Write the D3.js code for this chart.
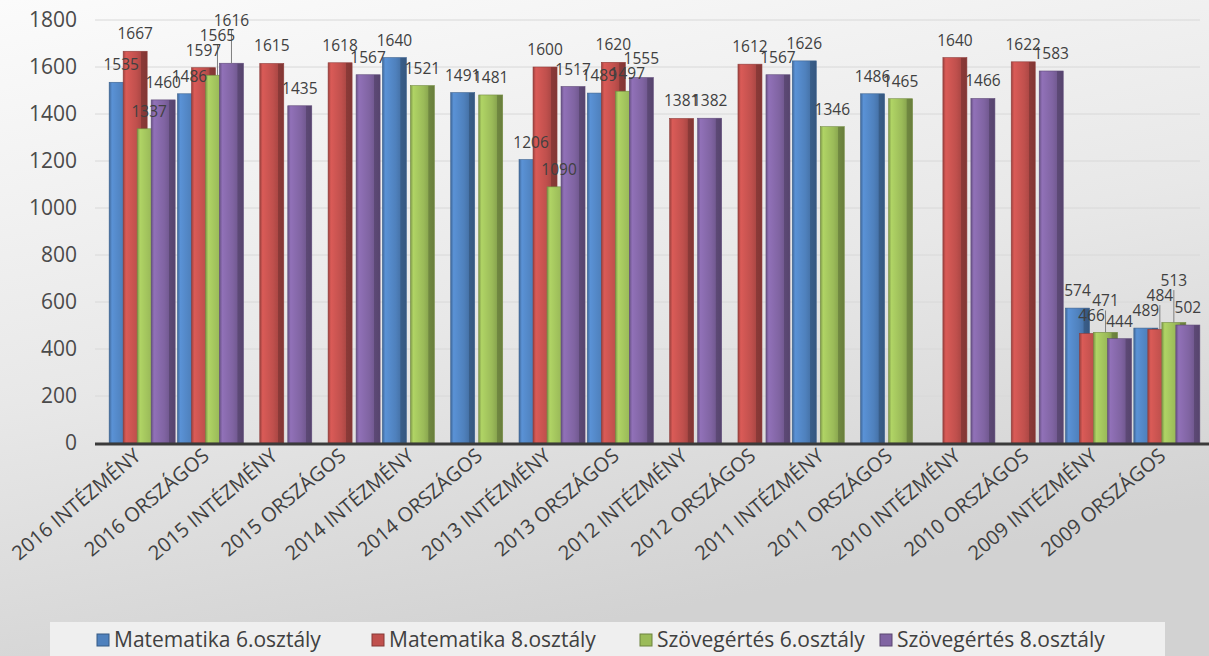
<html>
<head>
<script src="https://d3js.org/d3.v7.min.js"></script>
<style>
  body { margin: 0; }
  text { font-family: "Open Sans", sans-serif; fill: #404040; }
</style>
</head>
<body>
<svg width="1209" height="656"></svg>
<script>
const categories = ['2016 INTÉZMÉNY', '2016 ORSZÁGOS', '2015 INTÉZMÉNY', '2015 ORSZÁGOS',
  '2014 INTÉZMÉNY', '2014 ORSZÁGOS', '2013 INTÉZMÉNY', '2013 ORSZÁGOS',
  '2012 INTÉZMÉNY', '2012 ORSZÁGOS', '2011 INTÉZMÉNY', '2011 ORSZÁGOS',
  '2010 INTÉZMÉNY', '2010 ORSZÁGOS', '2009 INTÉZMÉNY', '2009 ORSZÁGOS'];
const seriesNames = ['Matematika 6.osztály', 'Matematika 8.osztály', 'Szövegértés 6.osztály', 'Szövegértés 8.osztály'];
const matek6 = [1535, 1486, null, null, 1640, 1491, 1206, 1489, null, null, 1626, 1486, null, null, 574, 489];
const matek8 = [1667, 1597, 1615, 1618, null, null, 1600, 1620, 1381, 1612, null, null, 1640, 1622, 466, 484];
const szoveg6 = [1337, 1565, null, null, 1521, 1481, 1090, 1497, null, null, 1346, 1465, null, null, 471, 513];
const szoveg8 = [1460, 1616, 1435, 1567, null, null, 1517, 1555, 1382, 1567, null, null, 1466, 1583, 444, 502];
const yTicks = [0, 200, 400, 600, 800, 1000, 1200, 1400, 1600, 1800];
const colors = ['#4f81bd', '#c0504d', '#9bbb59', '#8064a2'];

const series = [matek6, matek8, szoveg6, szoveg8];
const svg = d3.select('svg');
const defs = svg.append('defs');

// background
const bg = defs.append('linearGradient').attr('id', 'bg')
  .attr('x1', 0).attr('y1', 0).attr('x2', 0.35).attr('y2', 1);
bg.append('stop').attr('offset', '0%').attr('stop-color', '#fbfbfb');
bg.append('stop').attr('offset', '55%').attr('stop-color', '#e8e8e8');
bg.append('stop').attr('offset', '100%').attr('stop-color', '#d2d2d2');
svg.append('rect').attr('width', 1209).attr('height', 656).attr('fill', 'url(#bg)');

// bar gradients (fake 3d look)
colors.forEach((c, i) => {
  const g = defs.append('linearGradient').attr('id', 'bar' + i);
  const base = d3.color(c);
  g.append('stop').attr('offset', '0%').attr('stop-color', base.darker(0.6));
  g.append('stop').attr('offset', '12%').attr('stop-color', base.brighter(0.35));
  g.append('stop').attr('offset', '55%').attr('stop-color', base);
  g.append('stop').attr('offset', '74%').attr('stop-color', base.darker(0.3));
  g.append('stop').attr('offset', '76%').attr('stop-color', base.darker(0.9));
  g.append('stop').attr('offset', '100%').attr('stop-color', base.darker(1.1));
});

const y = d3.scaleLinear().domain([0, 1800]).range([443, 20]);
const x0 = d3.scaleBand().domain(categories).range([108, 1201]).padding(0);
const slot = 14;
const barW = 24;

// gridlines
svg.append('g').selectAll('line').data(yTicks.slice(1)).join('line')
  .attr('x1', 95).attr('x2', 1200)
  .attr('y1', d => y(d)).attr('y2', d => y(d))
  .attr('stroke', '#d8d8d8').attr('stroke-width', 1);

// y tick labels
svg.append('g').selectAll('text').data(yTicks).join('text')
  .attr('x', 77).attr('y', d => y(d)).attr('dy', '0.35em')
  .attr('text-anchor', 'end')
  .style('font-size', '21px').style('fill', '#4a4a4a')
  .text(d => d);

// bars
const bars = [];
series.forEach((vals, s) => {
  vals.forEach((v, i) => {
    if (v == null) return;
    bars.push({ s, cat: categories[i], v });
  });
});
const cx = d => x0(d.cat) + x0.bandwidth() / 2 + (d.s - 1.5) * slot;

svg.append('g').selectAll('rect').data(bars).join('rect')
  .attr('x', d => cx(d) - barW / 2)
  .attr('y', d => y(d.v))
  .attr('width', barW)
  .attr('height', d => y(0) - y(d.v))
  .attr('fill', d => `url(#bar${d.s})`)
  .attr('stroke', d => d3.color(colors[d.s]).darker(0.8))
  .attr('stroke-width', 0.6);

// floor / axis line
svg.append('line').attr('x1', 95).attr('x2', 1209).attr('y1', y(0) + 1).attr('y2', y(0) + 1)
  .attr('stroke', '#3a3a3a').attr('stroke-width', 3);

// value labels, pushed up when they collide badly (like excel's manual placement)
const leaders = svg.append('g');
const labels = svg.append('g').selectAll('text').data(bars).join('text')
  .attr('x', d => cx(d))
  .attr('text-anchor', 'middle')
  .style('font-size', '15.5px').style('fill', '#404040')
  .text(d => d.v);

const placed = [];
labels.each(function (d) {
  const w = this.getComputedTextLength();
  const start = y(d.v) - 12;
  let base = start;
  const box = () => ({ x1: cx(d) - w / 2, x2: cx(d) + w / 2, y1: base - 12, y2: base + 2 });
  let moved = true;
  while (moved) {
    moved = false;
    const b = box();
    for (const p of placed) {
      const overlapX = Math.min(b.x2, p.x2) - Math.max(b.x1, p.x1);
      if (overlapX > 10 && b.y1 < p.y2 && b.y2 > p.y1) {
        base = p.y1 - 3;
        moved = true;
        break;
      }
    }
  }
  placed.push(box());
  d3.select(this).attr('y', base);
  if (start - base > 3) {
    leaders.append('line')
      .attr('x1', cx(d)).attr('x2', cx(d))
      .attr('y1', base + 4).attr('y2', y(d.v))
      .attr('stroke', '#7f7f7f').attr('stroke-width', 1);
  }
});

// category labels
svg.append('g').selectAll('text').data(categories).join('text')
  .attr('text-anchor', 'end')
  .attr('transform', d => `translate(${x0(d) + x0.bandwidth() / 2},${458}) rotate(-40)`)
  .style('font-size', '20px').style('fill', '#404040')
  .text(d => d);

// legend
svg.append('rect').attr('x', 50).attr('y', 622).attr('width', 1115).attr('height', 40)
  .attr('fill', '#efefef');
const legX = [97, 372, 640, 880];
const leg = svg.append('g').selectAll('g').data(seriesNames).join('g')
  .attr('transform', (d, i) => `translate(${legX[i]},640)`);
leg.append('rect').attr('x', 0).attr('y', -6).attr('width', 12).attr('height', 12)
  .attr('fill', (d, i) => colors[i])
  .attr('stroke', (d, i) => d3.color(colors[i]).darker(1)).attr('stroke-width', 1);
leg.append('text').attr('x', 17).attr('dy', '0.35em')
  .style('font-size', '21px').style('fill', '#404040')
  .text(d => d);
</script>
</body>
</html>
